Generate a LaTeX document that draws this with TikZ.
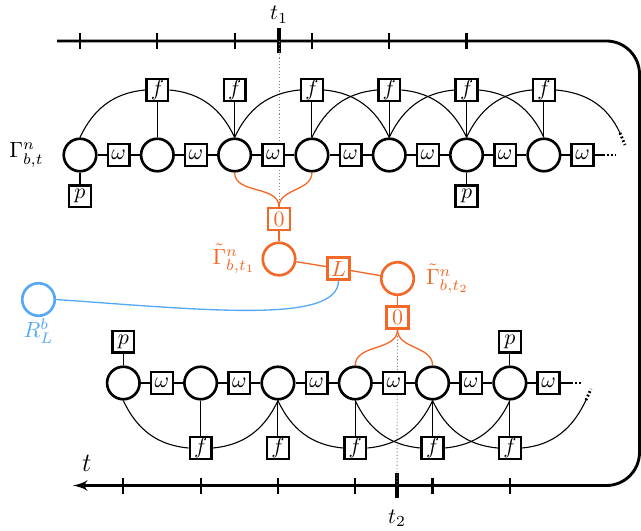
\documentclass[tikz,border=0pt]{standalone}
\usepackage{amsmath}
\usepackage{tikz}
\usetikzlibrary{positioning, arrows}
\definecolor{tang}{RGB}{243,104,38}
\definecolor{sky}{RGB}{84,168,245}
\tikzstyle{var}=[draw, circle, line width=1.2pt, minimum size=14.8pt, inner sep=0pt]
\tikzstyle{fac}=[draw, line width=1.1pt, minimum size=9.9pt, inner sep=0.5pt, fill=white]
\tikzstyle{timeline}=[line width=1.3pt, rounded corners=0.53cm]
\tikzstyle{tck}=[line width=1pt]
\tikzstyle{tmark}=[line width=1.8pt]
\tikzstyle{guide}=[gray, densely dotted, line width=0.4pt]
\tikzstyle{cont}=[line width=1.3pt, dash pattern=on 0.8pt off 1pt]
\tikzstyle{hid}=[tang, line width=0.6pt]
\tikzstyle{obs}=[sky, line width=0.6pt]

\begin{document}
\begin{tikzpicture}[node distance=0.6185cm, > = latex', every path/.style={line width=0.5pt}]
\useasboundingbox (0,0) rectangle (10.256,8.48);
% time line
\coordinate (ta) at (0.912,7.824);
\coordinate (tr) at (10.232,7.824);
\coordinate (br) at (10.232,0.712);
\coordinate (tb) at (1.168,0.712);
\coordinate (t1) at (4.464,7.824);
\coordinate (t2) at (6.352,0.712);
\draw[timeline, ->] (ta) -- (tr) -- (br) -- (tb);
\node[above of=t1, node distance=0.42cm] (lt1) {$t_1$};
\node[below of=t2, node distance=0.52cm] (lt2) {$t_2$};
\node[font=\large] (lt) at (1.39,1.07) {$t$};
\draw[tmark] (t1) +(0,-0.2) -- +(0,0.2);
\draw[tmark] (t2) +(0,-0.2) -- +(0,0.2);

% hidden states and loss
\node[fac, draw=tang, text=tang] (z1) at (4.464,4.976) {$0$};
\node[var, draw=tang, below of=z1, node distance=0.64cm] (g1) {};
\node[fac, draw=tang, text=tang] (L) at (5.416,4.184) {$L$};
\node[var, draw=tang] (g2) at (6.36,4.024) {};
\node[fac, draw=tang, text=tang, below of=g2, node distance=0.624cm] (z2) {$0$};
\node[left of=g1, node distance=0.72cm, text=tang] (lg1) {$\tilde\Gamma^n_{b,t_1}$};
\node[right of=g2, node distance=0.8cm, text=tang] (lg2) {$\tilde\Gamma^n_{b,t_2}$};
\node[var, draw=sky] (R) at (0.616,3.688) {};
\node[below of=R, node distance=0.5cm, text=sky] (lR) {$R_L^b$};
\draw[guide] (t1) -- (z1);
\draw[guide] (z2) -- (t2);

% upper chain
\node[var] (u1) at (1.28,6.0) {};
\node[fac, right of=u1] (wu1) {$\omega$};
\node[var, right of=wu1] (u2) {};
\node[fac, right of=u2] (wu2) {$\omega$};
\node[var, right of=wu2] (u3) {};
\node[fac, right of=u3] (wu3) {$\omega$};
\node[var, right of=wu3] (u4) {};
\node[fac, right of=u4] (wu4) {$\omega$};
\node[var, right of=wu4] (u5) {};
\node[fac, right of=u5] (wu5) {$\omega$};
\node[var, right of=wu5] (u6) {};
\node[fac, right of=u6] (wu6) {$\omega$};
\node[var, right of=wu6] (u7) {};
\node[fac, right of=u7] (wu7) {$\omega$};
\node[left of=u1, node distance=0.856cm] (lu) {$\Gamma^n_{b,t}$};
\node[fac, above of=u2, node distance=1.04cm] (fu2) {$f$};
\node[fac, above of=u3, node distance=1.04cm] (fu3) {$f$};
\node[fac, above of=u4, node distance=1.04cm] (fu4) {$f$};
\node[fac, above of=u5, node distance=1.04cm] (fu5) {$f$};
\node[fac, above of=u6, node distance=1.04cm] (fu6) {$f$};
\node[fac, above of=u7, node distance=1.04cm] (fu7) {$f$};
\node[fac, below of=u1, node distance=0.66cm] (pu1) {$p$};
\node[fac, below of=u6, node distance=0.66cm] (pu6) {$p$};
\coordinate (eu1) at (9.648,6.0);
\coordinate (eu2) at (9.856,6.0);
\coordinate (cu1) at (9.92,6.352);
\coordinate (cu2) at (10.0,6.16);

\draw (u1) -- (wu1) -- (u2) -- (wu2) -- (u3) -- (wu3) -- (u4) -- (wu4) -- (u5) -- (wu5) -- (u6) -- (wu6) -- (u7) -- (wu7) -- (eu1);
\draw[cont] (eu1) -- (eu2);
\draw (pu1) -- (u1);
\draw (pu6) -- (u6);
\draw (fu2) -- (u2);
\draw (fu3) -- (u3);
\draw (fu4) -- (u4);
\draw (fu5) -- (u5);
\draw (fu6) -- (u6);
\draw (fu7) -- (u7);
\draw (fu2.west) to[out=185,in=65] (u1.north);
\draw (fu2.east) to[out=-5,in=115] (u3.north);
\draw (fu4.west) to[out=185,in=65] (u3.north);
\draw (fu4.east) to[out=-5,in=115] (u5.north);
\draw (fu5.west) to[out=185,in=65] (u4.north);
\draw (fu5.east) to[out=-5,in=115] (u6.north);
\draw (fu6.west) to[out=185,in=65] (u5.north);
\draw (fu6.east) to[out=-5,in=115] (u7.north);
\draw (fu7.west) to[out=185,in=65] (u6.north);
\draw (fu7.east) to[out=-5,in=115] (cu1);
\draw[cont] (cu1) -- (cu2);
\draw[tck] (u1 |- t1) +(0,-0.128) -- +(0,0.128);
\draw[tck] (u2 |- t1) +(0,-0.128) -- +(0,0.128);
\draw[tck] (u3 |- t1) +(0,-0.128) -- +(0,0.128);
\draw[tck] (u4 |- t1) +(0,-0.128) -- +(0,0.128);
\draw[tck] (u5 |- t1) +(0,-0.128) -- +(0,0.128);
\draw[tck] (u6 |- t1) +(0,-0.128) -- +(0,0.128);

% lower chain
\node[var] (d1) at (1.973,2.352) {};
\node[fac, right of=d1] (wd1) {$\omega$};
\node[var, right of=wd1] (d2) {};
\node[fac, right of=d2] (wd2) {$\omega$};
\node[var, right of=wd2] (d3) {};
\node[fac, right of=d3] (wd3) {$\omega$};
\node[var, right of=wd3] (d4) {};
\node[fac, right of=d4] (wd4) {$\omega$};
\node[var, right of=wd4] (d5) {};
\node[fac, right of=d5] (wd5) {$\omega$};
\node[var, right of=wd5] (d6) {};
\node[fac, right of=d6] (wd6) {$\omega$};
\node[fac, below of=d2, node distance=1.04cm] (fd2) {$f$};
\node[fac, below of=d3, node distance=1.04cm] (fd3) {$f$};
\node[fac, below of=d4, node distance=1.04cm] (fd4) {$f$};
\node[fac, below of=d5, node distance=1.04cm] (fd5) {$f$};
\node[fac, below of=d6, node distance=1.04cm] (fd6) {$f$};
\node[fac, above of=d1, node distance=0.66cm] (pd1) {$p$};
\node[fac, above of=d6, node distance=0.66cm] (pd6) {$p$};
\coordinate (ed1) at (9.136,2.352);
\coordinate (ed2) at (9.312,2.352);
\coordinate (cd1) at (9.376,2.08);
\coordinate (cd2) at (9.456,2.256);

\draw (d1) -- (wd1) -- (d2) -- (wd2) -- (d3) -- (wd3) -- (d4) -- (wd4) -- (d5) -- (wd5) -- (d6) -- (wd6) -- (ed1);
\draw[cont] (ed1) -- (ed2);
\draw (pd1) -- (d1);
\draw (pd6) -- (d6);
\draw (fd2) -- (d2);
\draw (fd3) -- (d3);
\draw (fd4) -- (d4);
\draw (fd5) -- (d5);
\draw (fd6) -- (d6);
\draw (fd2.west) to[out=175,in=-65] (d1.south);
\draw (fd2.east) to[out=5,in=-115] (d3.south);
\draw (fd4.west) to[out=175,in=-65] (d3.south);
\draw (fd4.east) to[out=5,in=-115] (d5.south);
\draw (fd5.west) to[out=175,in=-65] (d4.south);
\draw (fd5.east) to[out=5,in=-115] (d6.south);
\draw (fd6.west) to[out=175,in=-65] (d5.south);
\draw (fd6.east) to[out=5,in=-115] (cd1);
\draw[cont] (cd1) -- (cd2);
\draw[tck] (d1 |- t2) +(0,-0.128) -- +(0,0.128);
\draw[tck] (d2 |- t2) +(0,-0.128) -- +(0,0.128);
\draw[tck] (d3 |- t2) +(0,-0.128) -- +(0,0.128);
\draw[tck] (d4 |- t2) +(0,-0.128) -- +(0,0.128);
\draw[tck] (d5 |- t2) +(0,-0.128) -- +(0,0.128);
\draw[tck] (d6 |- t2) +(0,-0.128) -- +(0,0.128);

% links between the chains
\draw[hid] (u3.south) to[out=-90,in=90] (z1.north);
\draw[hid] (u4.south) to[out=-90,in=90] (z1.north);
\draw[hid] (z1) -- (g1);
\draw[hid] (g1) -- (L) -- (g2);
\draw[hid] (g2) -- (z2);
\draw[hid] (z2.south) to[out=-90,in=90] (d4.north);
\draw[hid] (z2.south) to[out=-90,in=90] (d5.north);
\draw[obs] (R.east) to[out=-4,in=-90,out distance=2.4cm,in distance=0.7cm] (L.south);
\end{tikzpicture}
\end{document}
